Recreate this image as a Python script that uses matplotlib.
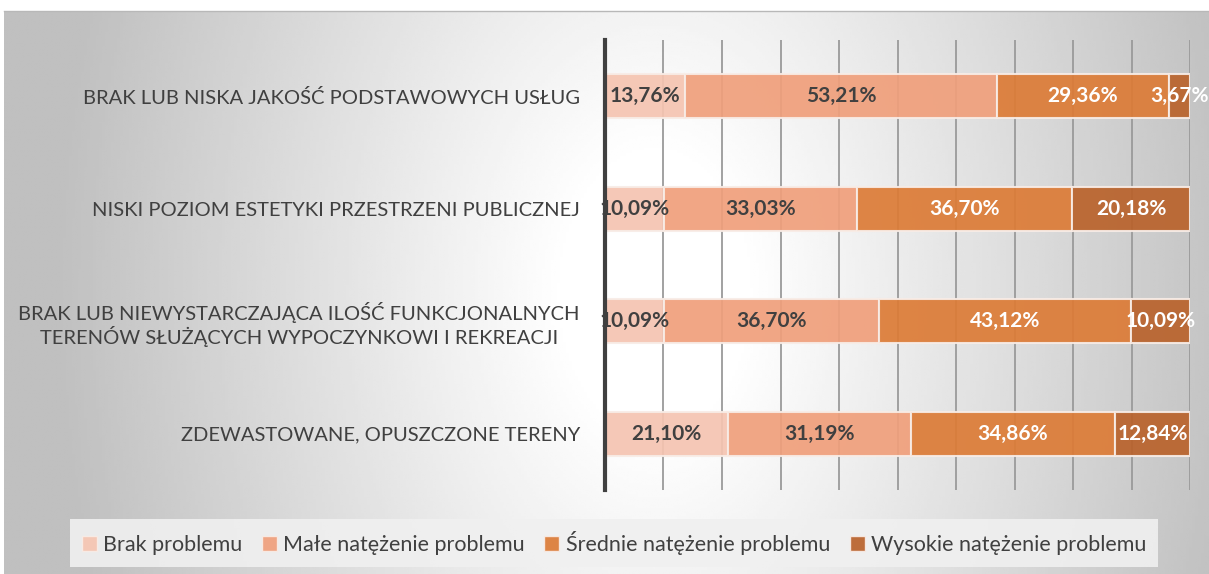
import numpy as np
import matplotlib
matplotlib.use("Agg")
from matplotlib import pyplot as plt
from matplotlib.patches import Patch

plt.rcParams['font.family'] = ['Lato', 'DejaVu Sans']

# Problem areas, top to bottom
categories = [
    'BRAK LUB NISKA JAKOŚĆ PODSTAWOWYCH USŁUG',
    'NISKI POZIOM ESTETYKI PRZESTRZENI PUBLICZNEJ',
    'BRAK LUB NIEWYSTARCZAJĄCA ILOŚĆ FUNKCJONALNYCH\nTERENÓW SŁUŻĄCYCH WYPOCZYNKOWI I REKREACJI',
    'ZDEWASTOWANE, OPUSZCZONE TERENY',
]
series_names = ['Brak problemu', 'Małe natężenie problemu',
                'Średnie natężenie problemu', 'Wysokie natężenie problemu']
brak = [13.76, 10.09, 10.09, 21.10]
male = [53.21, 33.03, 36.70, 31.19]
srednie = [29.36, 36.70, 43.12, 34.86]
wysokie = [3.67, 20.18, 10.09, 12.84]

colors = ['#f5c4b1', '#f09f7b', '#dc7b36', '#b9622b']
label_colors = ['#404040', '#404040', 'white', 'white']

W, H = 1209, 574
fig = plt.figure(figsize=(W / 100, H / 100), dpi=100)

# soft grey background, lighter towards the middle
bg = fig.add_axes([4 / W, 0, 1 - 4 / W, (H - 11) / H])
xx, yy = np.meshgrid(np.linspace(0, 1, 400), np.linspace(0, 1, 200))
d = np.sqrt(((xx - 0.54) / 0.5) ** 2 + ((yy - 0.5) / 1.6) ** 2)
shade = 1 - 0.25 * np.clip((d - 0.15) / 0.85, 0, 1)
bg.imshow(shade, cmap='gray', vmin=0, vmax=1, aspect='auto',
          extent=[0, 1, 0, 1], interpolation='bilinear')
bg.set_axis_off()
fig.add_artist(plt.Line2D([4 / W, 1], [(H - 11) / H] * 2, color='#b8b8b8', lw=1))

ax = fig.add_axes([605 / W, 1 - 490 / H, 585 / W, 450 / H])
ax.patch.set_alpha(0)

values = [brak, male, srednie, wysokie]
y = np.arange(len(categories))
left = np.zeros(len(categories))
for vals, name, col, tcol in zip(values, series_names, colors, label_colors):
    vals = np.array(vals)
    ax.barh(y, vals, left=left, height=0.39, color=col, alpha=0.92,
            edgecolor='#f8ece6', linewidth=1.5, label=name, zorder=3)
    for yi, l, v in zip(y, left, vals):
        ax.text(l + v / 2, yi, f'{v:.2f}%'.replace('.', ','), ha='center', va='center',
                fontsize=15, fontweight='bold', color=tcol, zorder=4)
    left = left + vals

ax.set_xlim(0, 100)
ax.set_ylim(3.5, -0.5)
ax.set_xticks(np.arange(0, 101, 10))
ax.xaxis.grid(True, color='#9a9a9a', linewidth=1.3, zorder=1)
ax.tick_params(axis='x', length=0, labelbottom=False)
ax.tick_params(axis='y', length=0, pad=18)
ax.set_yticks(y)
ax.set_yticklabels(categories, fontsize=14.5, color='#404040', multialignment='center')
for s in ['top', 'right', 'bottom']:
    ax.spines[s].set_visible(False)
ax.spines['left'].set_linewidth(3)
ax.spines['left'].set_color('#404040')
ax.spines['left'].set_zorder(5)

handles = [Patch(facecolor=c, edgecolor='#f8ece6', alpha=0.92) for c in colors]
leg = fig.legend(handles, series_names, loc='center', bbox_to_anchor=(614 / W, 1 - 543 / H),
                 ncol=4, fontsize=15.5, frameon=True, fancybox=False,
                 handlelength=0.7, handleheight=0.7, handletextpad=0.3,
                 columnspacing=0.9, borderpad=0.55)
leg.get_frame().set_facecolor('#f0f0f0')
leg.get_frame().set_edgecolor('none')
leg.get_frame().set_alpha(0.9)
for t in leg.get_texts():
    t.set_color('#404040')

fig.savefig('out.png', dpi=100)
